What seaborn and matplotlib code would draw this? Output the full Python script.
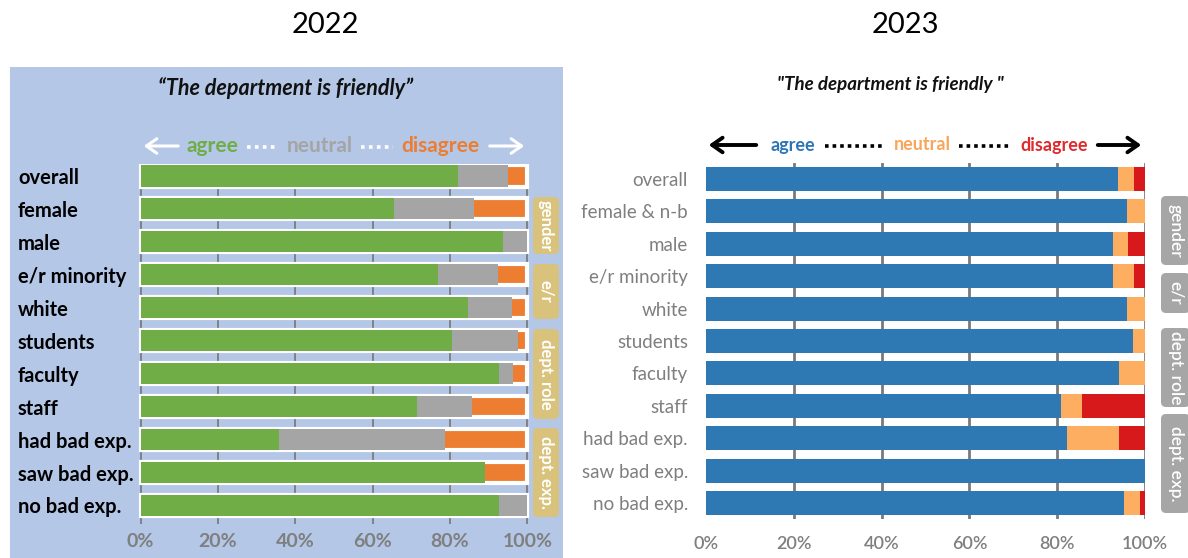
import numpy as np
import pandas as pd
import matplotlib
matplotlib.use("Agg")
import matplotlib.pyplot as plt
from matplotlib.patches import Rectangle, FancyBboxPatch, FancyArrowPatch
from matplotlib.lines import Line2D
import seaborn as sns

# ---------------- data ----------------
cats22 = ["overall", "female", "male", "e/r minority", "white", "students",
          "faculty", "staff", "had bad exp.", "saw bad exp.", "no bad exp."]
agree22 = [82.0, 65.4, 93.7, 76.9, 84.7, 80.6, 92.6, 71.4, 35.7, 89.1, 92.6]
neutral22 = [13.0, 20.9, 6.3, 15.6, 11.4, 16.9, 3.7, 14.4, 43.0, 0.0, 7.4]
disagree22 = [5.0, 13.7, 0.0, 7.5, 3.9, 2.5, 3.7, 14.2, 21.3, 10.9, 0.0]

cats23 = ["overall", "female & n-b", "male", "e/r minority", "white", "students",
          "faculty", "staff", "had bad exp.", "saw bad exp.", "no bad exp."]
agree23 = [93.8, 95.8, 92.7, 92.8, 96.0, 97.3, 94.0, 80.8, 82.3, 100.0, 95.3]
neutral23 = [3.7, 4.2, 3.5, 4.7, 4.0, 2.7, 6.0, 4.9, 11.7, 0.0, 3.6]
disagree23 = [2.5, 0.0, 3.8, 2.5, 0.0, 0.0, 0.0, 14.3, 6.0, 0.0, 1.1]

xticks = [0, 20, 40, 60, 80, 100]
xticklabels = ["0%", "20%", "40%", "60%", "80%", "100%"]
groups = ["gender", "e/r", "dept. role", "dept. exp."]
panel_titles = ["2022", "2023"]
subtitle22 = "\u201cThe department is friendly\u201d"
subtitle23 = "\"The department is friendly \""
legend_words = ["agree", "neutral", "disagree"]

# ---------------- style ----------------
sns.set_theme(style="white")
plt.rcParams["font.family"] = ["Lato", "DejaVu Sans"]

W, H = 1188, 558
fig = plt.figure(figsize=(W / 100, H / 100), dpi=100)
inch = fig.dpi_scale_trans


def P(x, y):
    """pixel (top-left origin) -> inches (bottom-left origin)"""
    return x / 100, (H - y) / 100


def axpos(x0, y0, x1, y1):
    return [x0 / W, 1 - y1 / H, (x1 - x0) / W, (y1 - y0) / H]


# left panel blue background
bx, by = P(10, 558)
fig.add_artist(Rectangle((bx, by), (563 - 10) / 100, (558 - 67) / 100,
                         transform=inch, facecolor="#b4c7e7", edgecolor="none", zorder=0))

GREEN, GREY, ORANGE = "#70ad47", "#a5a5a5", "#ed7d31"
BLUE, LORANGE, RED = "#2e78b4", "#fdae61", "#d7191c"


def stacked(ax, cats, a, n, d, colors, width, edge):
    df = pd.DataFrame({"cat": cats,
                       "c1": np.array(a),
                       "c2": np.array(a) + np.array(n),
                       "c3": np.array(a) + np.array(n) + np.array(d)})
    sns.barplot(data=df, x="c3", y="cat", orient="y", color=colors[2], width=width,
                errorbar=None, ax=ax, saturation=1,
                edgecolor="white" if edge else "none", linewidth=3.0 if edge else 0)
    sns.barplot(data=df, x="c2", y="cat", orient="y", color=colors[1], width=width,
                errorbar=None, ax=ax, saturation=1, linewidth=0)
    sns.barplot(data=df, x="c1", y="cat", orient="y", color=colors[0], width=width,
                errorbar=None, ax=ax, saturation=1, linewidth=0)


# ---------------- 2022 ----------------
ax1 = fig.add_axes(axpos(136.8, 164.1, 531.2, 523.6))
ax1.set_facecolor("none")
stacked(ax1, cats22, agree22, neutral22, disagree22, [GREEN, GREY, ORANGE], 0.64, True)
ax1.set_xlim(-1, 101)
ax1.set_ylim(10.55, -0.36)
ax1.set_axisbelow(True)
ax1.set_xticks(xticks)
ax1.set_xticklabels(xticklabels)
ax1.grid(axis="x", color="#6e6e6e", linewidth=1.1)
ax1.grid(axis="y", visible=False)
for s in ax1.spines.values():
    s.set_visible(False)
ax1.set_xlabel("")
ax1.set_ylabel("")
ax1.tick_params(axis="x", length=0, pad=6.5, labelsize=14, labelcolor="#7f7f7f")
ax1.tick_params(axis="y", length=0, pad=(136.8 - 18) / 1.389, labelsize=14.5, labelcolor="black")
for lab in ax1.get_xticklabels():
    lab.set_fontweight("bold")
for lab in ax1.get_yticklabels():
    lab.set_fontweight("bold")
    lab.set_horizontalalignment("left")

# ---------------- 2023 ----------------
ax2 = fig.add_axes(axpos(706, 162.8, 1145, 519.2))
ax2.set_facecolor("white")
stacked(ax2, cats23, agree23, neutral23, disagree23, [BLUE, LORANGE, RED], 0.74, False)
ax2.set_xlim(0, 100)
ax2.set_ylim(10.5, -0.5)
ax2.set_axisbelow(True)
ax2.set_xticks(xticks)
ax2.set_xticklabels(xticklabels)
ax2.grid(axis="x", color="#7a7a7a", linewidth=2.0)
ax2.xaxis.get_gridlines()[0].set_visible(False)
ax2.grid(axis="y", visible=False)
for s in ax2.spines.values():
    s.set_visible(False)
ax2.set_xlabel("")
ax2.set_ylabel("")
ax2.tick_params(axis="x", length=0, pad=12, labelsize=13, labelcolor="#7f7f7f")
ax2.tick_params(axis="y", length=0, pad=13, labelsize=13.5, labelcolor="#7f7f7f")
for lab in ax2.get_xticklabels():
    lab.set_fontweight("semibold")

# ---------------- titles ----------------
for txt, cx in zip(panel_titles, [325, 905]):
    x, y = P(cx, 25)
    fig.text(x, y, txt, transform=inch, ha="center", va="center", fontsize=21, color="black")

x, y = P(286, 88)
fig.text(x, y, subtitle22, transform=inch, ha="center", va="center", fontsize=15.5,
         fontweight="bold", style="italic", color="#111111")
x, y = P(890, 85)
fig.text(x, y, subtitle23, transform=inch, ha="center", va="center", fontsize=13.5,
         fontweight="bold", style="italic", color="#111111")


# ---------------- agree/neutral/disagree header ----------------
def header(yc, arrowL, words_x, dotsL, arrowR, wcolors, acolor, fs, dotlw, dash, alw):
    for (x0, x1), left in [(arrowL, True), (arrowR, False)]:
        pa = P(x0, yc)
        pb = P(x1, yc)
        start, end = (pb, pa) if left else (pa, pb)
        fig.add_artist(FancyArrowPatch(
            start, end, transform=inch, arrowstyle="->,head_length=5,head_width=3.5",
            mutation_scale=1.5, color=acolor, linewidth=alw, zorder=5))
    for w, cx, c in zip(legend_words, words_x, wcolors):
        x, y = P(cx, yc)
        fig.text(x, y, w, transform=inch, ha="center", va="center", fontsize=fs,
                 fontweight="bold", color=c)
    for (x0, x1) in dotsL:
        pa = P(x0, yc + 1)
        pb = P(x1, yc + 1)
        fig.add_artist(Line2D([pa[0], pb[0]], [pa[1], pb[1]], transform=inch,
                              color=acolor, linewidth=dotlw, linestyle=(0, dash),
                              solid_capstyle="butt", dash_capstyle="butt"))


header(146, (141, 181), [212.5, 320, 440.5], [(247, 278), (361, 393)], (487, 527),
       [GREEN, GREY, ORANGE], "white", 15, 2.6, (1.0, 1.2), 2.2)
header(145, (706, 759), [793, 922.5, 1054.5], [(825, 884), (959, 1010)], (1095, 1144),
       ["#2e75b6", "#f9a65a", "#e02a2e"], "black", 13, 2.6, (1.0, 1.1), 2.8)


# ---------------- side group boxes ----------------
def side_boxes(x0, x1, spans, fc, fs, weight):
    for g, (y0, y1) in zip(groups, spans):
        lx, ly = P(x0, y1)
        fig.add_artist(FancyBboxPatch((lx, ly), (x1 - x0) / 100, (y1 - y0) / 100,
                                      boxstyle="round,pad=0,rounding_size=0.05",
                                      transform=inch, facecolor=fc, edgecolor="none", zorder=3))
        cx, cy = P((x0 + x1) / 2, (y0 + y1) / 2)
        fig.text(cx, cy, g, transform=inch, ha="center", va="center", rotation=-90,
                 fontsize=fs, fontweight=weight, color="white", zorder=4)


side_boxes(533, 559, [(197, 254), (264, 319), (329, 419), (428, 517)],
           "#d9c27b", 12, "bold")
side_boxes(1161, 1190, [(196, 265), (273, 313), (328, 407), (414, 513)],
           "#a6a6a6", 12.5, "semibold")

fig.savefig("out.png", dpi=100)
